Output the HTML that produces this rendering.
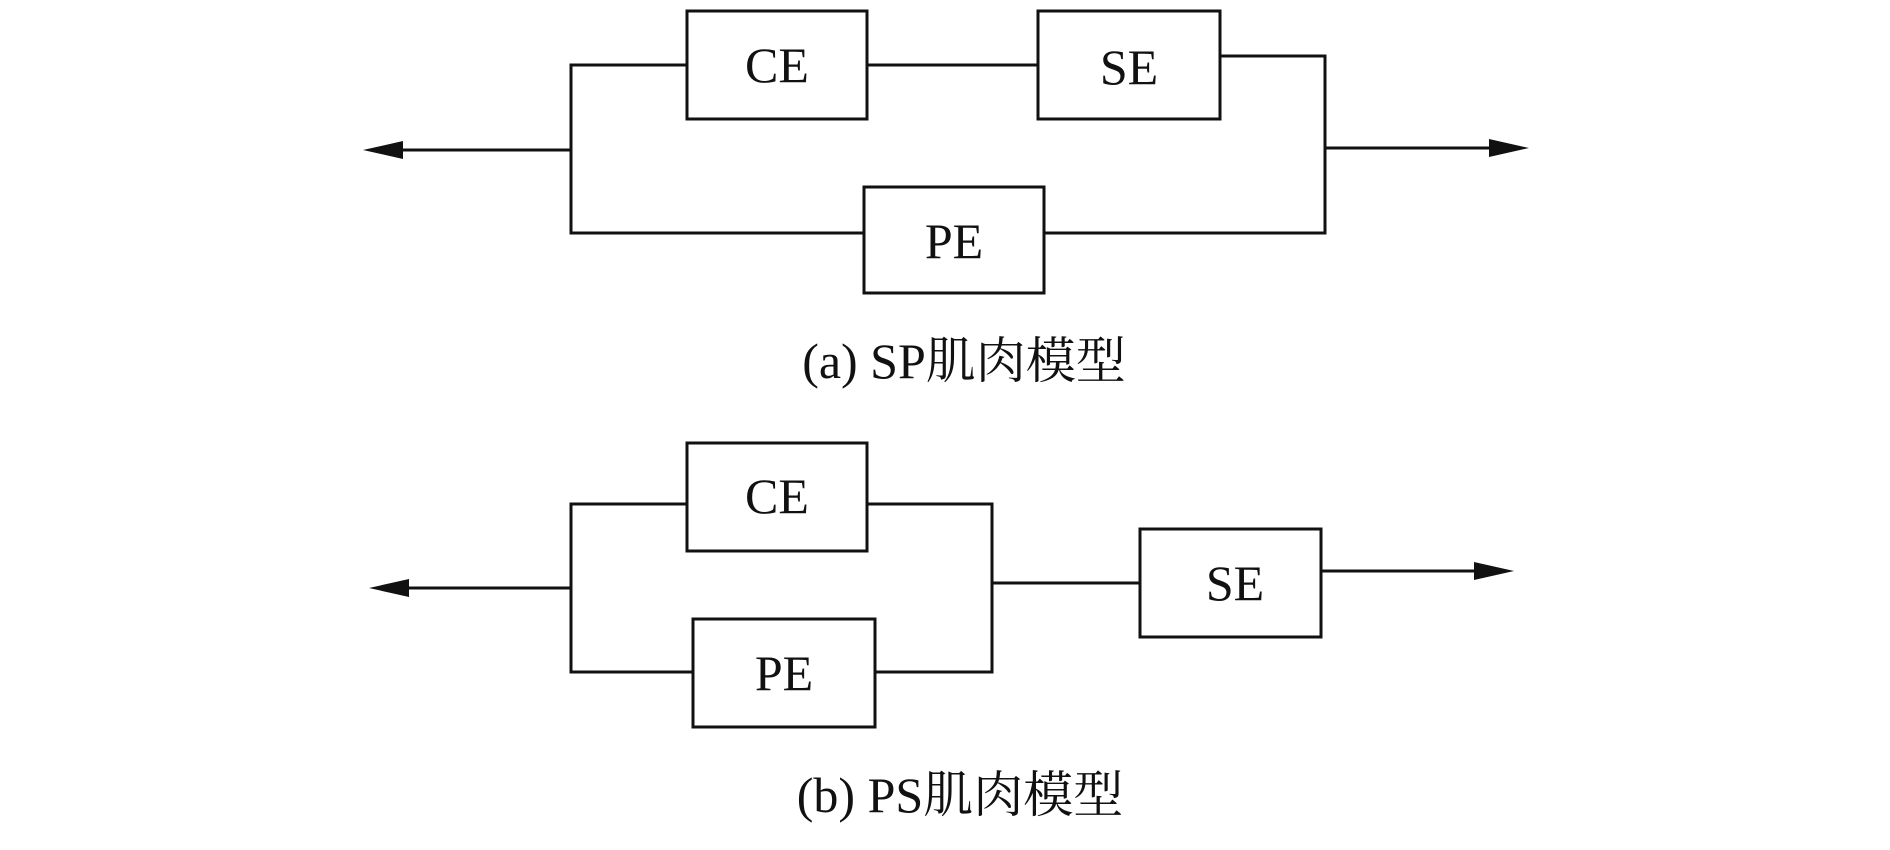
<!DOCTYPE html>
<html><head><meta charset="utf-8"><style>html,body{margin:0;padding:0;background:#fff}</style></head>
<body>
<svg width="1890" height="845" viewBox="0 0 1890 845" xmlns="http://www.w3.org/2000/svg">
<g fill="none" stroke="#111" stroke-width="3">
<!-- (a) -->
<rect x="687" y="11" width="180" height="108"/>
<rect x="1038" y="11" width="182" height="108"/>
<rect x="864" y="187" width="180" height="106"/>
<polyline points="687,65 571,65 571,233 864,233"/>
<line x1="867" y1="65" x2="1038" y2="65"/>
<polyline points="1220,56 1325,56 1325,233 1044,233"/>
<line x1="571" y1="150" x2="385" y2="150"/>
<line x1="1325" y1="148" x2="1505" y2="148"/>
<!-- (b) -->
<rect x="687" y="443" width="180" height="108"/>
<rect x="693" y="619" width="182" height="108"/>
<rect x="1140" y="529" width="181" height="108"/>
<polyline points="687,504 571,504 571,672 693,672"/>
<polyline points="867,504 992,504 992,672 875,672"/>
<line x1="992" y1="583" x2="1140" y2="583"/>
<line x1="571" y1="588" x2="390" y2="588"/>
<line x1="1321" y1="571" x2="1490" y2="571"/>
</g>
<g fill="#111">
<polygon points="363,150 403,141 403,159"/>
<polygon points="1529,148 1489,139 1489,157"/>
<polygon points="369,588 409,579 409,597"/>
<polygon points="1514,571 1474,562 1474,580"/>
</g>
<g font-family="'Liberation Serif','Noto Serif CJK SC',serif" font-size="50" fill="#111" text-anchor="middle">
<text x="777" y="82">CE</text>
<text x="1129" y="84">SE</text>
<text x="954" y="258">PE</text>
<text x="777" y="513">CE</text>
<text x="784" y="690">PE</text>
<text x="1235" y="600">SE</text>
<text x="964" y="378">(a) SP肌肉模型</text>
<text x="960" y="812">(b) PS肌肉模型</text>
</g>
</svg>
</body></html>
